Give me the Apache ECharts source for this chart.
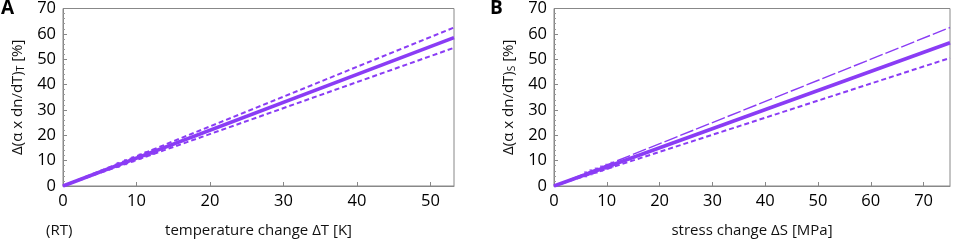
<!DOCTYPE html>
<html>
<head>
<meta charset="utf-8">
<script src="https://cdn.jsdelivr.net/npm/echarts@6/dist/echarts.min.js"></script>
<style>
html,body{margin:0;padding:0;background:#fff;}
#chart{width:954px;height:243px;}
</style>
</head>
<body>
<div id="chart"></div>
<script>
// panel A: temperature change
const xA = [0, 53.2];
const solidA = [0, 58.5];
const upperA = [0, 62.5];
const lowerA = [0, 54.5];
const ptsAx = [7.5, 8.5, 9.5, 10.5, 11.3, 12.2];
const ptsAy = [8.3, 9.4, 10.5, 11.6, 12.5, 13.4];

// panel B: stress change
const xB = [0, 75];
const solidB = [0, 56.5];
const upperB = [0, 62.5];
const lowerB = [0, 50.5];
const ptsBx = [6, 7, 8, 9, 10, 11];
const ptsBy = [4.6, 5.4, 6.1, 6.9, 7.6, 8.4];

const purple = "#8a3cf5";
const font = "Open Sans";

const chart = echarts.init(document.getElementById("chart"));

function yAxisCfg(idx, name){
  return {
    gridIndex:idx, type:"value", min:0, max:70, interval:10,
    name:name, nameLocation:"middle", nameGap:37,
    nameTextStyle:{fontFamily:font, fontSize:15, color:"#111", rich:{
      sub:{fontSize:10, verticalAlign:"bottom", padding:[7,0,0,0], fontFamily:font, color:"#111"}
    }},
    axisLine:{show:true, lineStyle:{color:"#888"}},
    axisTick:{show:true, inside:true, length:4, lineStyle:{color:"#888"}},
    minorTick:{show:true, splitNumber:5, length:2, lineStyle:{color:"#999"}},
    splitLine:{show:false},
    axisLabel:{fontFamily:font, fontSize:16.5, color:"#000", margin:7}
  };
}

function xAxisCfg(idx, max, name){
  return {
    gridIndex:idx, type:"value", min:0, max:max, interval:10,
    name:name, nameLocation:"middle", nameGap:37,
    nameTextStyle:{fontFamily:font, fontSize:15, color:"#111"},
    axisLine:{show:true, lineStyle:{color:"#888"}},
    axisTick:{show:true, inside:true, length:4, lineStyle:{color:"#888"}},
    splitLine:{show:false},
    axisLabel:{fontFamily:font, fontSize:16.5, color:"#000", margin:7,
      showMaxLabel:false}
  };
}

function line(idx, xs, ys, type, width){
  return {
    type:"line", xAxisIndex:idx, yAxisIndex:idx,
    data:xs.map((x,i)=>[x, ys[i]]),
    showSymbol:false, symbol:"none",
    lineStyle:{color:purple, width:width, type:type},
    silent:true
  };
}

function pts(idx, xs, ys){
  return {
    type:"scatter", xAxisIndex:idx, yAxisIndex:idx,
    data:xs.map((x,i)=>[x, ys[i]]),
    symbol:"rect", symbolSize:[3,6],
    itemStyle:{color:purple}
  };
}

const option = {
  backgroundColor:"#fff",
  animation:false,
  grid:[
    {left:63, top:8, width:391, height:182, show:true, borderColor:"#888", borderWidth:1},
    {left:554, top:8, width:396, height:182, show:true, borderColor:"#888", borderWidth:1}
  ],
  xAxis:[
    xAxisCfg(0, 53.2, "temperature change ΔT [K]"),
    xAxisCfg(1, 75, "stress change ΔS [MPa]")
  ],
  yAxis:[
    yAxisCfg(0, "Δ(α x dn/dT){sub|T} [%]"),
    yAxisCfg(1, "Δ(α x dn/dT){sub|S} [%]")
  ],
  graphic:[
    {type:"text", left:1, top:-1, style:{text:"A", fontFamily:font, fontWeight:"bold", fontSize:19, fill:"#000"}},
    {type:"text", left:490, top:-1, style:{text:"B", fontFamily:font, fontWeight:"bold", fontSize:19, fill:"#000"}},
    {type:"text", left:46, top:223, style:{text:"(RT)", fontFamily:font, fontSize:15, fill:"#111"}}
  ],
  series:[
    line(0, xA, upperA, [5,3], 2),
    line(0, xA, lowerA, [5,3], 2),
    line(0, xA, solidA, "solid", 3.5),
    pts(0, ptsAx, ptsAy),
    line(1, xB, upperB, [14,3], 1.4),
    line(1, xB, lowerB, [5,3], 2),
    line(1, xB, solidB, "solid", 3.5),
    pts(1, ptsBx, ptsBy)
  ]
};

chart.setOption(option);
</script>
</body>
</html>
